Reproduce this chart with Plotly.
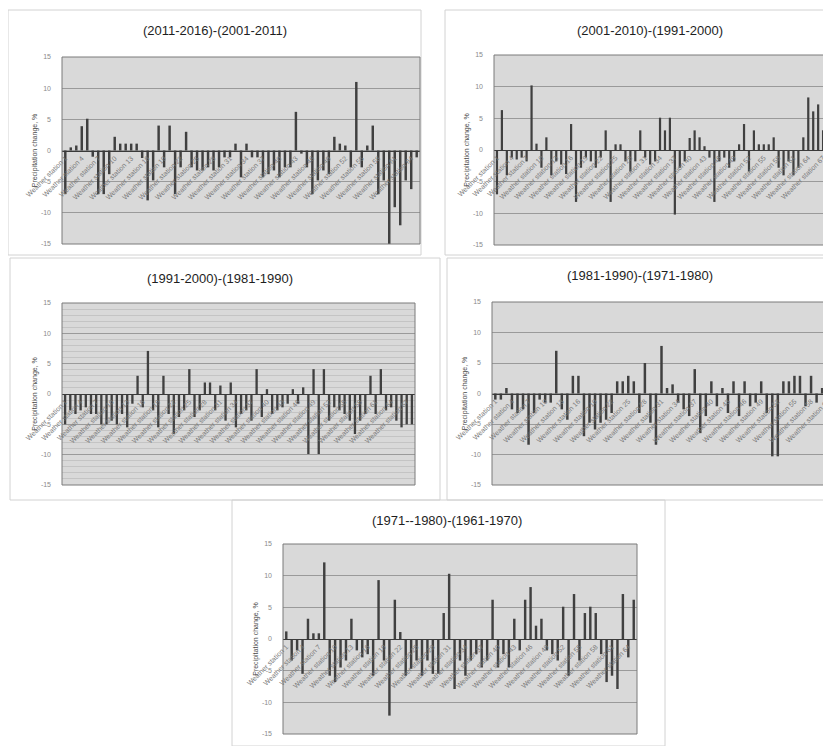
"""Five panels of decade-to-decade differences per station, one bar per station."""

import plotly.graph_objects as go

# the page adds an 8px body margin, so the figure is 8px smaller and shifted
PAGE_PAD = 8
W, H = 831 - PAGE_PAD, 746 - PAGE_PAD

titles = [
    "(2011-2016)-(2001-2011)",
    "(2001-2010)-(1991-2000)",
    "(1991-2000)-(1981-1990)",
    "(1981-1990)-(1971-1980)",
    "(1971--1980)-(1961-1970)",
]

y_title = "Precipitation change, %"
y_ticks = [-15, -10, -5, 0, 5, 10, 15]
stations = [f"Weather station {i + 1}" for i in range(80)]

diff_2011_2001 = [-7, 0.5, 0.8, 3.9, 5.1, -1, -7, -7, -3.8, 2.2, 1.1, 1.1, 1.1, 1.1, -1.2,
                  -8, -4.8, 4, -2.7, 4, -7, -2.7, 3, -2.7, -3.2, -3.2, -2.7, -3.2, -2.7,
                  -1.1, -1.1, 1.1, -4.3, 1.1, -1.1, -1.1, -4.3, -3.8, -3.2, -4.3, -2.7,
                  -2.7, 6.2, -0.5, -2.7, -7, -4.8, -3.2, -3.8, 2.2, 1.1, 0.8, -2.7, 11,
                  -2.7, 0.8, 4, -7, -4.8, -15, -9.1, -12, -4.8, -6.2, -1.1]
diff_2001_1991 = [-7, 6.3, -4, -1.2, -1.5, -1.2, -1.8, 10.2, 1, -2.8, 2, -4, -1.8, -2.3,
                  -3.8, 4.1, -8.2, -2.8, -1.2, -1.8, -2.8, -1.2, 3.1, -8.2, 0.9, 0.9,
                  -1.8, -3.4, -1.8, 3.1, -1.2, -2.3, -1.8, 5.1, 3.1, 5.1, -10.2, -2.8,
                  -1.8, 1.9, 3.1, 2, 0.6, -1.2, -8.2, -1.8, -1.2, -2.8, -1.8, 0.9, 4.1,
                  -3.4, 3.1, 0.9, 0.9, 0.9, 2, -2.8, -4, -1.8, -4, -2.8, 2, 8.3, 6.1,
                  7.2, 3.1, 4]
diff_1991_1981 = [-5, -2.7, -3.3, -2.7, -2.2, -3.3, -3.3, -5, -5, -4.4, -5, -3.3, -5.5,
                  -1.6, 3, -2.2, 7.1, -2.7, -5.5, 3, -3.3, -6.6, -3.8, -2.7, 4.1, -3.8,
                  -2.7, 1.9, 1.9, -2.7, 1.4, -4.4, 1.9, -5.5, -3.3, -2.7, -4.4, 4.1,
                  -3.8, 0.8, -3.3, -2.7, -2.2, -1.6, 0.8, -1.6, 1.1, -9.9, 4.1, -9.9,
                  4.1, -4.4, -2.2, -2.7, -3.3, -4.4, -6.6, -4.4, -3.3, 3, -3.3, 4.1,
                  -2.7, -2.2, -4.4, -5.5, -5, -5]
diff_1981_1971 = [-1, -1, 0.9, -2.6, -3.2, -2.6, -8.4, -3.2, -1, -1.5, -1.5, 7, -2.6,
                  -4.3, 2.9, 2.9, -7, -4.8, -5.9, -4.8, -4.3, -3.2, 2, 2, 2.9, 2, -3.2,
                  5, -4.8, -8.4, 7.8, 0.9, 1.5, -1.5, -2.6, -3.7, 4, -6.5, -3.7, 2,
                  -2.1, 0.9, -3.2, 2, -3.7, 2, -2.1, -1.5, 2, -3.2, -10.3, -10.3, 2, 2,
                  2.9, 2.9, -2.1, 2.9, -1.5, 0.9, 4]
diff_1971_1961 = [1.2, -3.4, -1.8, -5.5, 3.2, 0.9, 0.9, 12.1, -5.8, -6.8, -4.5, -3.4,
                  3.2, -1.8, -2.9, -2.4, -5.8, 9.3, -3.4, -12.1, 6.2, 1.1, -5.8, -4.7,
                  -3.4, -5.8, -3.4, -5.5, -5.5, 4.1, 10.3, -7.9, -3.4, -5.8, -3.4, -2.4,
                  -4.5, -3.4, 6.2, -4.5, -2.4, -4.5, 3.2, -1.8, 6.2, 8.2, 2.1, 3.2,
                  -1.8, -2.4, -3.4, 5.1, -5.8, 7.1, -3.4, 4.1, 5.1, 4.1, -2.4, -6.8,
                  -5.8, -7.9, 7.1, -2.9, 6.2]

series = [diff_2011_2001, diff_2001_1991, diff_1991_1981, diff_1981_1971, diff_1971_1961]

# plot areas and surrounding boxes in screen pixels: (x0, x1, y0, y1)
plot_px = [(62, 420, 57, 244), (494, 831, 55, 245), (62, 415, 303, 485),
           (492, 831, 302, 485), (283, 637, 544, 734)]
box_px = [(8, 421, 10, 255), (445, 831, 10, 255), (10, 440, 258, 500),
          (447, 831, 258, 500), (232, 665, 500, 746)]
title_px = [(215, 30), (650, 30), (220, 278), (640, 275), (447, 520)]


def px(x):
    return (x - PAGE_PAD) / W


def py(y):
    return 1 - (y - PAGE_PAD) / H


fig = go.Figure()
shapes, annotations = [], []

for i, (vals, (x0, x1, y0, y1)) in enumerate(zip(series, plot_px), start=1):
    sfx = "" if i == 1 else str(i)
    cats = stations[:len(vals)]
    fig.add_trace(go.Bar(x=cats, y=vals, xaxis="x" + sfx, yaxis="y" + sfx,
                         marker=dict(color="#404040", line=dict(width=0)),
                         showlegend=False))
    yd = [max(py(y1), 0), py(y0)]
    fig.layout["xaxis" + sfx] = dict(
        domain=[px(x0), min(px(x1), 1)], anchor="free", position=(py(y1) + py(y0)) / 2,
        type="category", range=[-0.6, len(vals) - 0.4], automargin=False,
        showgrid=False, showline=True, linecolor="#3a3a3a", linewidth=1,
        ticks="", tickangle=-45, tickvals=cats[::3],
        tickfont=dict(size=7, color="#7a7a7a"),
    )
    ya = dict(
        domain=yd, anchor="x" + sfx, range=[-15, 15], automargin=False,
        tickvals=y_ticks, ticktext=[str(t) for t in y_ticks],
        showgrid=True, gridcolor="#9a9a9a", gridwidth=1, zeroline=False,
        ticks="", ticklabelstandoff=10, tickfont=dict(size=7, color="#8a8a8a"),
        title=dict(text=y_title, font=dict(size=7, color="#4a4a4a"), standoff=2),
    )
    if i == 3:
        ya["minor"] = dict(dtick=1, showgrid=True, gridcolor="#c4c4c4")
    fig.layout["yaxis" + sfx] = ya
    shapes.append(dict(type="rect", xref=f"x{sfx} domain", yref=f"y{sfx} domain",
                       x0=0, x1=1, y0=0, y1=1, line=dict(color="#7a7a7a", width=1)))

for (bx0, bx1, by0, by1) in box_px:
    shapes.append(dict(type="rect", xref="paper", yref="paper",
                       x0=px(bx0), x1=min(px(bx1), 1), y0=max(py(by1), 0), y1=py(by0),
                       line=dict(color="#d2d2d2", width=1), layer="below"))

for t, (tx, ty) in zip(titles, title_px):
    annotations.append(dict(text=t, x=px(tx), y=py(ty), xref="paper", yref="paper",
                            xanchor="center", yanchor="middle", showarrow=False,
                            font=dict(size=13, color="#1e1e1e")))

fig.update_layout(
    width=W, height=H, margin=dict(l=0, r=0, t=0, b=0, autoexpand=False),
    paper_bgcolor="white", plot_bgcolor="#d9d9d9",
    font=dict(family="Liberation Sans, Arial, sans-serif"),
    bargap=0.55, shapes=shapes, annotations=annotations,
)

fig.write_html("out.html")
